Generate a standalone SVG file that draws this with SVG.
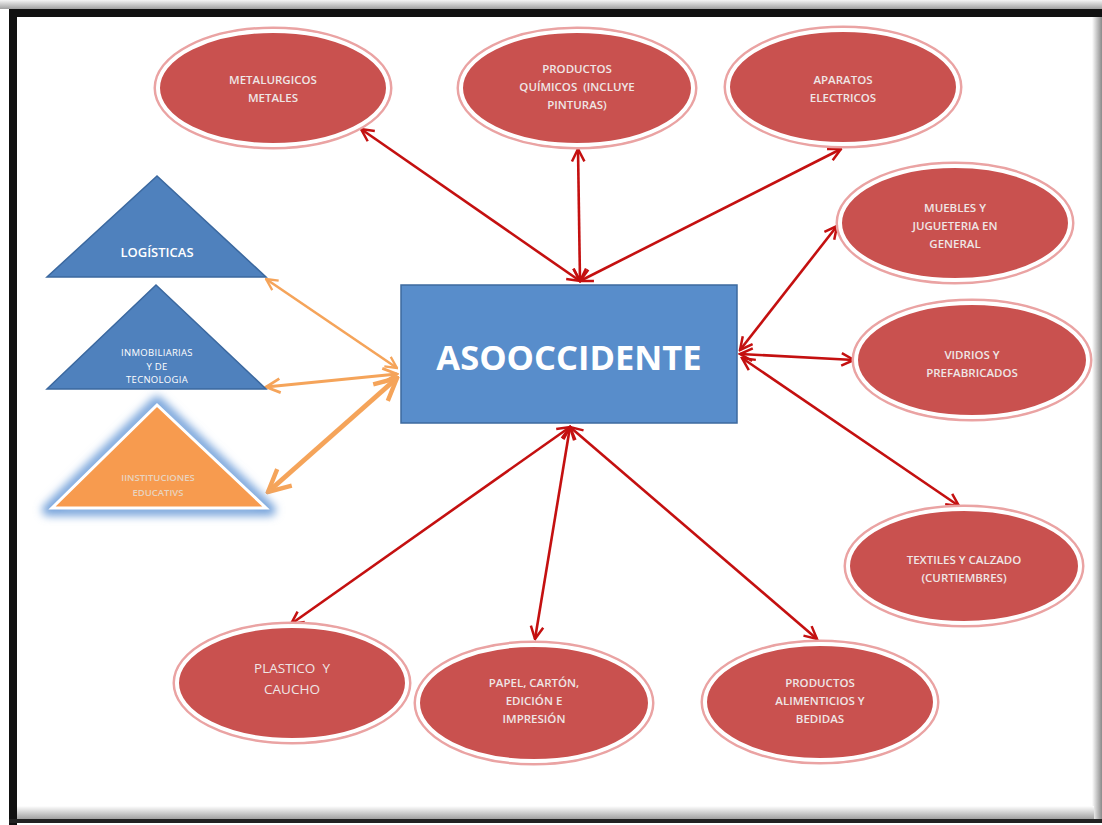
<svg xmlns="http://www.w3.org/2000/svg" width="1102" height="825" viewBox="0 0 1102 825">
<defs>
<style>
.ell{fill:#c9514f;stroke:#ffffff;stroke-width:4}
.glow{fill:none;stroke:#eaa3a3;stroke-width:3}
.et{font-family:"Open Sans","Liberation Sans",sans-serif;font-size:11.5px;font-weight:600;fill:#efe6e6;text-anchor:middle;white-space:pre}
.red{stroke:#c41010;stroke-width:2.6;fill:none;marker-start:url(#ra);marker-end:url(#ra)}
.org{stroke:#f5a45a;fill:none;marker-start:url(#oa);marker-end:url(#oa)}
.tri{fill:#4f81bd;stroke:#3b689f;stroke-width:1.5}
.tt{font-family:"Open Sans","Liberation Sans",sans-serif;fill:#ffffff;text-anchor:middle}
</style>
<marker id="ra" viewBox="0 0 10 10" refX="9" refY="5" markerWidth="6" markerHeight="6" orient="auto-start-reverse" markerUnits="strokeWidth">
<path d="M1,1 L9,5 L1,9" fill="none" stroke="#c41010" stroke-width="1.6"/>
</marker>
<marker id="oa" viewBox="0 0 10 10" refX="9" refY="5" markerWidth="5.5" markerHeight="5.5" orient="auto-start-reverse" markerUnits="strokeWidth">
<path d="M1,1 L9,5 L1,9" fill="none" stroke="#f5a45a" stroke-width="1.6"/>
</marker>
<linearGradient id="rg" x1="0" y1="0" x2="1" y2="0">
<stop offset="0" stop-color="#ffffff"/><stop offset="1" stop-color="#8a8a8a"/>
</linearGradient>
<linearGradient id="bg" x1="0" y1="0" x2="0" y2="1">
<stop offset="0" stop-color="#ffffff"/><stop offset="1" stop-color="#9a9a9a"/>
</linearGradient>
<linearGradient id="tg" x1="0" y1="0" x2="0" y2="1">
<stop offset="0" stop-color="#f4f4f4"/><stop offset="1" stop-color="#a0a0a0"/>
</linearGradient>
<filter id="bl" x="-30%" y="-30%" width="160%" height="160%"><feGaussianBlur stdDeviation="4"/></filter>
</defs>

<g id="frame">
<rect x="0" y="0" width="1102" height="825" fill="#ffffff"/>
<rect x="0" y="0" width="1102" height="9" fill="url(#tg)"/>
<rect x="9" y="9" width="1093" height="8" fill="#111111"/>
<rect x="9" y="9" width="8" height="816" fill="#111111"/>
<rect x="1092" y="17" width="10" height="806" fill="url(#rg)"/>
<rect x="17" y="806" width="1077" height="14" fill="url(#bg)"/>
<rect x="9" y="819" width="1093" height="4" fill="#222222"/>
</g>

<g id="connectors">
<line class="red" x1="580" y1="281" x2="361" y2="129"/>
<line class="red" x1="580" y1="281" x2="578" y2="149"/>
<line class="red" x1="580" y1="281" x2="841" y2="149"/>
<line class="red" x1="740" y1="350" x2="837" y2="226"/>
<line class="red" x1="740" y1="354" x2="854" y2="360"/>
<line class="red" x1="742" y1="358" x2="959" y2="506"/>
<line class="red" x1="570" y1="427" x2="291" y2="624"/>
<line class="red" x1="570" y1="427" x2="535" y2="639"/>
<line class="red" x1="570" y1="427" x2="817" y2="639"/>
<line class="org" stroke-width="2.6" x1="397" y1="368" x2="266" y2="279"/>
<line class="org" stroke-width="3.2" x1="397" y1="374" x2="266" y2="387"/>
<line class="org" stroke-width="5" x1="397" y1="378" x2="268" y2="492"/>
</g>

<g id="asoccidente">
<rect x="401" y="285" width="336" height="138" fill="#588dcb" stroke="#3d6a9f" stroke-width="1.5"/>
<text x="569" y="370" font-family="'Open Sans','Liberation Sans',sans-serif" font-size="34.5" font-weight="700" fill="#ffffff" text-anchor="middle">ASOOCCIDENTE</text>
</g>

<g id="metalurgicos">
<ellipse class="glow" cx="273" cy="88" rx="118" ry="60"/>
<ellipse class="ell" cx="273" cy="88" rx="115" ry="57"/>
<text class="et" x="273" y="84">METALURGICOS</text>
<text class="et" x="273" y="102">METALES</text>
</g>

<g id="quimicos">
<ellipse class="glow" cx="577" cy="88" rx="119" ry="60"/>
<ellipse class="ell" cx="577" cy="88" rx="116" ry="57"/>
<text class="et" x="577" y="73">PRODUCTOS</text>
<text class="et" x="577" y="91">QUÍMICOS  (INCLUYE</text>
<text class="et" x="577" y="109">PINTURAS)</text>
</g>

<g id="aparatos">
<ellipse class="glow" cx="843" cy="87" rx="118" ry="60"/>
<ellipse class="ell" cx="843" cy="87" rx="115" ry="57"/>
<text class="et" x="843" y="84">APARATOS</text>
<text class="et" x="843" y="102">ELECTRICOS</text>
</g>

<g id="muebles">
<ellipse class="glow" cx="955" cy="223" rx="118" ry="60"/>
<ellipse class="ell" cx="955" cy="223" rx="115" ry="57"/>
<text class="et" x="955" y="212">MUEBLES Y</text>
<text class="et" x="955" y="230">JUGUETERIA EN</text>
<text class="et" x="955" y="248">GENERAL</text>
</g>

<g id="vidrios">
<ellipse class="glow" cx="972" cy="360" rx="119" ry="60"/>
<ellipse class="ell" cx="972" cy="360" rx="116" ry="57"/>
<text class="et" x="972" y="359">VIDRIOS Y</text>
<text class="et" x="972" y="377">PREFABRICADOS</text>
</g>

<g id="textiles">
<ellipse class="glow" cx="964" cy="566" rx="119" ry="60"/>
<ellipse class="ell" cx="964" cy="566" rx="116" ry="57"/>
<text class="et" x="964" y="564">TEXTILES Y CALZADO</text>
<text class="et" x="964" y="582">(CURTIEMBRES)</text>
</g>

<g id="plastico">
<ellipse class="glow" cx="292" cy="683" rx="118" ry="60"/>
<ellipse class="ell" cx="292" cy="683" rx="115" ry="57"/>
<text class="et" x="292" y="673" style="font-size:13.5px;font-weight:400">PLASTICO  Y</text>
<text class="et" x="292" y="694" style="font-size:13.5px;font-weight:400">CAUCHO</text>
</g>

<g id="papel">
<ellipse class="glow" cx="534" cy="703" rx="119" ry="61"/>
<ellipse class="ell" cx="534" cy="703" rx="116" ry="58"/>
<text class="et" x="534" y="687">PAPEL, CARTÓN,</text>
<text class="et" x="534" y="705">EDICIÓN E</text>
<text class="et" x="534" y="723">IMPRESIÓN</text>
</g>

<g id="alimenticios">
<ellipse class="glow" cx="820" cy="702" rx="118" ry="61"/>
<ellipse class="ell" cx="820" cy="702" rx="115" ry="58"/>
<text class="et" x="820" y="687">PRODUCTOS</text>
<text class="et" x="820" y="705">ALIMENTICIOS Y</text>
<text class="et" x="820" y="723">BEDIDAS</text>
</g>

<g id="logisticas">
<polygon class="tri" points="157,176 47,277 266,277"/>
<text class="tt" x="157" y="257" font-size="13" font-weight="600">LOGÍSTICAS</text>
</g>

<g id="inmobiliarias">
<polygon class="tri" points="156,285 47,389 266,389"/>
<text class="tt" x="157" y="356" font-size="9.5" letter-spacing="0.3">INMOBILIARIAS</text>
<text class="tt" x="157" y="370" font-size="9.5" letter-spacing="0.3">Y  DE</text>
<text class="tt" x="157" y="383" font-size="9.5" letter-spacing="0.3">TECNOLOGIA</text>
</g>

<g id="instituciones">
<polygon points="157,402 48,510 270,510" fill="none" stroke="#7aa6dc" stroke-width="12" stroke-linejoin="round" filter="url(#bl)"/>
<polygon points="157,405 52,508 266,508" fill="#f79b4f" stroke="#ffffff" stroke-width="3"/>
<text class="tt" x="158" y="481" font-size="9.5" font-weight="600" style="fill:#e9d3bf">IINSTITUCIONES</text>
<text class="tt" x="158" y="496" font-size="9.5" font-weight="600" style="fill:#e9d3bf">EDUCATIVS</text>
</g>
</svg>
